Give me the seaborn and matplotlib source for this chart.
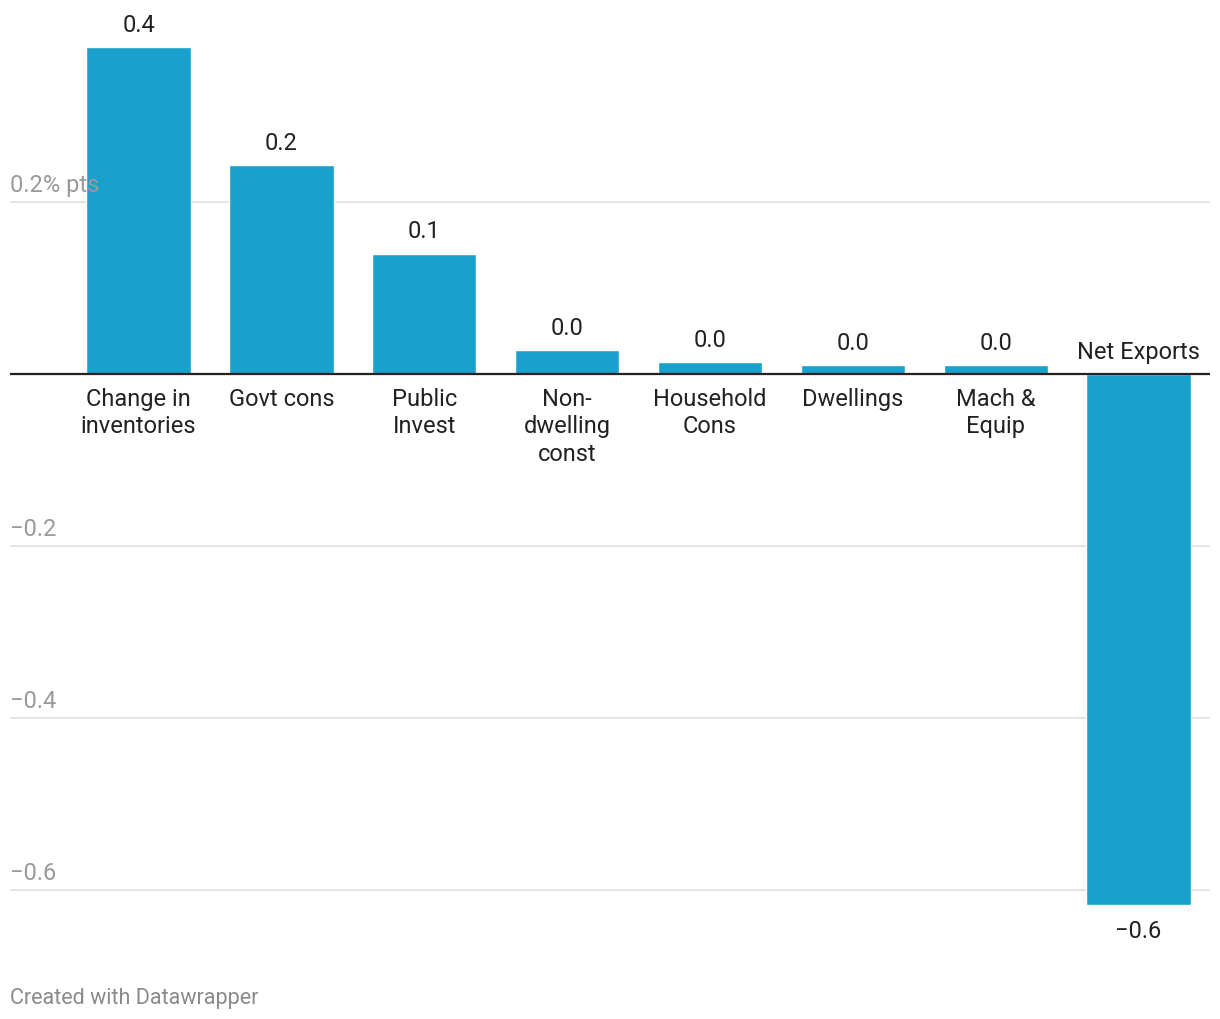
import pandas as pd
import matplotlib.pyplot as plt
import seaborn as sns

sns.set_style("white")
plt.rcParams["font.family"] = ["Roboto", "DejaVu Sans"]

# Data (contribution to growth, % pts)
categories = ["Change in\ninventories", "Govt cons", "Public\nInvest", "Non-\ndwelling\nconst",
              "Household\nCons", "Dwellings", "Mach &\nEquip", "Net Exports"]
values = [0.38, 0.243, 0.14, 0.028, 0.014, 0.010, 0.010, -0.617]
grid_values = [0.2, -0.2, -0.4, -0.6]
grid_labels = ["0.2% pts", "\u22120.2", "\u22120.4", "\u22120.6"]

BAR = "#18a1cd"
TEXT = "#222222"
GREY = "#9a9a9a"

df = pd.DataFrame({"cat": categories, "val": values})

fig = plt.figure(figsize=(12.2, 10.2), dpi=100)
# zero line sits at y=375px, 860px per unit
ytop, ybot = 0.42, -0.66
px_top = 375 - 860 * ytop
px_bot = 375 - 860 * ybot
ax = fig.add_axes([10 / 1220, (1020 - px_bot) / 1020, 1200 / 1220, (px_bot - px_top) / 1020])

sns.barplot(data=df, x="cat", y="val", color=BAR, width=0.73, saturation=1, ax=ax)
for p in ax.patches:
    p.set_zorder(2)

ax.set_ylim(ybot, ytop)
ax.set_xlim(-0.9, len(categories) - 0.5)
for s in ax.spines.values():
    s.set_visible(False)
ax.set_xticks([])
ax.set_yticks([])
ax.set_xlabel("")
ax.set_ylabel("")

# gridlines and in-plot tick labels
for v, lab in zip(grid_values, grid_labels):
    ax.axhline(v, color="#e3e3e3", lw=1.3, zorder=1)
    t = ax.annotate(lab, xy=(0, v), xycoords=("axes fraction", "data"), xytext=(0, 4),
                    textcoords="offset points", ha="left", va="bottom",
                    fontsize=17, color=GREY)
    t.set_zorder(10)
ax.axhline(0, color=TEXT, lw=1.6, zorder=3)

# value labels
labels = [f"{v:.1f}".replace("-", "\u2212") for v in values]
ax.bar_label(ax.containers[0], labels=labels[:-1] + [""], padding=8, fontsize=17, color=TEXT)
ax.annotate(labels[-1], xy=(len(values) - 1, values[-1]), xytext=(0, -10),
            textcoords="offset points", ha="center", va="top", fontsize=17, color=TEXT)

# category labels
for i, (c, v) in enumerate(zip(categories, values)):
    if v >= 0:
        ax.annotate(c, xy=(i, 0), xytext=(0, -9), textcoords="offset points",
                    ha="center", va="top", fontsize=17, color=TEXT, linespacing=1.27)
    else:
        ax.annotate(c, xy=(i, 0), xytext=(0, 8), textcoords="offset points",
                    ha="center", va="bottom", fontsize=17, color=TEXT)

fig.text(10 / 1220, 1 - 999 / 1020, "Created with Datawrapper", ha="left", va="center",
         fontsize=15.5, color="#8a8a8a")

fig.savefig("out.png", dpi=100)
